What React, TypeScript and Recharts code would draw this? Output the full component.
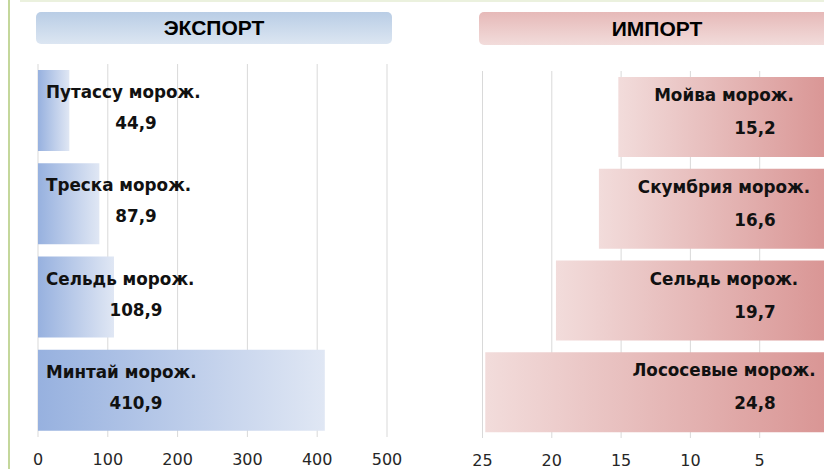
import { BarChart, Bar, XAxis, YAxis, CartesianGrid, LabelList } from "recharts";

const exportNames = ["Путассу морож.", "Треска морож.", "Сельдь морож.", "Минтай морож."];
const exportValues = [44.9, 87.9, 108.9, 410.9];
const exportTicks = [0, 100, 200, 300, 400, 500];

const importNames = ["Мойва морож.", "Скумбрия морож.", "Сельдь морож.", "Лососевые морож."];
const importValues = [15.2, 16.6, 19.7, 24.8];
const importTicks = [0, 5, 10, 15, 20, 25];

const exportData = exportNames.map((name, i) => ({ name, value: exportValues[i] }));
const importData = importNames.map((name, i) => ({ name, value: importValues[i] }));

const fmt = (v: number) => v.toFixed(1).replace(".", ",");

const labelFont = { fontFamily: "DejaVu Sans", fontSize: 16.8, fontWeight: 700, fill: "#111" };
const tickStyle = { fontFamily: "DejaVu Sans", fontSize: 16, fill: "#262626" };

function ExportLabel(props: any) {
  const { x, y, index } = props;
  return (
    <g>
      <text x={x + 8} y={y + 22} dominantBaseline="central" textAnchor="start" {...labelFont}>
        {exportNames[index]}
      </text>
      <text x={x + 98} y={y + 53} dominantBaseline="central" textAnchor="middle" {...labelFont}>
        {fmt(exportValues[index])}
      </text>
    </g>
  );
}

function ImportLabel(props: any) {
  const { x, y, width, index } = props;
  const right = Math.max(x, x + width);
  return (
    <g>
      <text x={right - 105} y={y + 18} dominantBaseline="central" textAnchor="middle" {...labelFont}>
        {importNames[index]}
      </text>
      <text x={right - 74} y={y + 51} dominantBaseline="central" textAnchor="middle" {...labelFont}>
        {fmt(importValues[index])}
      </text>
    </g>
  );
}

const headerText = {
  fontFamily: "Liberation Sans, Arial, sans-serif",
  fontWeight: 700,
  fontSize: 21,
  color: "#000",
  textAlign: "center" as const,
};

export default function App() {
  return (
    <div
      style={{
        position: "absolute",
        left: 0,
        top: 0,
        width: 824,
        height: 469,
        overflow: "hidden",
        background: "#fff",
      }}
    >
      {/* slide frame */}
      <div style={{ position: "absolute", left: 8, top: 0, width: 2, height: 469, background: "#c4d79b" }} />
      <div style={{ position: "absolute", left: 20, top: 0, width: 804, height: 2, background: "#ebf1de" }} />

      <div
        style={{
          ...headerText,
          position: "absolute",
          left: 36,
          top: 12,
          width: 356,
          height: 32,
          lineHeight: "32px",
          borderRadius: 5,
          background: "linear-gradient(to bottom, #b9cde5, #dce6f2)",
        }}
      >
        ЭКСПОРТ
      </div>
      <div
        style={{
          ...headerText,
          position: "absolute",
          left: 479,
          top: 12,
          width: 356,
          height: 33,
          lineHeight: "33px",
          borderRadius: 5,
          background: "linear-gradient(to bottom, #e6b9b8, #f2dcdb)",
        }}
      >
        ИМПОРТ
      </div>

      <div style={{ position: "absolute", left: 0, top: 0 }}>
        <BarChart
          width={420}
          height={469}
          data={exportData}
          layout="vertical"
          margin={{ top: 64, right: 33, bottom: 7, left: 38 }}
        >
          <defs>
            <linearGradient id="expGrad" x1="0" y1="0" x2="1" y2="0">
              <stop offset="0%" stopColor="#97b1df" />
              <stop offset="100%" stopColor="#e0e7f4" />
            </linearGradient>
          </defs>
          <CartesianGrid horizontal={false} stroke="#d9d9d9" />
          <XAxis
            type="number"
            domain={[0, 500]}
            ticks={exportTicks}
            interval={0}
            axisLine={false}
            tickLine={false}
            height={25}
            tickMargin={11}
            tick={tickStyle}
          />
          <YAxis
            type="category"
            dataKey="name"
            width={0}
            tick={false}
            tickLine={false}
            axisLine={{ stroke: "#bfbfbf" }}
          />
          <Bar dataKey="value" fill="url(#expGrad)" barSize={81} isAnimationActive={false}>
            <LabelList content={ExportLabel} />
          </Bar>
        </BarChart>
      </div>

      <div style={{ position: "absolute", left: 420, top: 0 }}>
        <BarChart
          width={420}
          height={469}
          data={importData}
          layout="vertical"
          margin={{ top: 71, right: 11, bottom: 6, left: 62.5 }}
        >
          <defs>
            <linearGradient id="impGrad" x1="0" y1="0" x2="1" y2="0">
              <stop offset="0%" stopColor="#f2dcdb" />
              <stop offset="100%" stopColor="#d99594" />
            </linearGradient>
          </defs>
          <CartesianGrid horizontal={false} stroke="#d9d9d9" />
          <XAxis
            type="number"
            reversed
            domain={[0, 25]}
            ticks={importTicks}
            interval={0}
            axisLine={false}
            tickLine={false}
            height={25}
            tickMargin={11}
            tick={tickStyle}
          />
          <YAxis
            type="category"
            dataKey="name"
            orientation="right"
            width={0}
            tick={false}
            tickLine={false}
            axisLine={{ stroke: "#bfbfbf" }}
          />
          <Bar dataKey="value" fill="url(#impGrad)" barSize={80} isAnimationActive={false}>
            <LabelList content={ImportLabel} />
          </Bar>
        </BarChart>
      </div>
    </div>
  );
}
